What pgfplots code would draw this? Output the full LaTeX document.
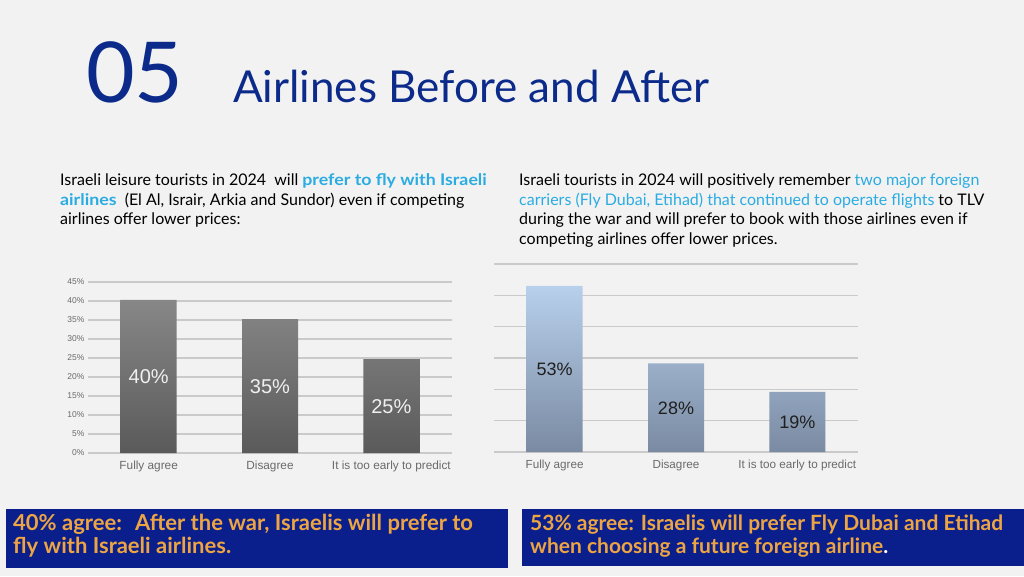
\documentclass[border=0pt]{standalone}
\usepackage{pgfplots}
\pgfplotsset{compat=1.18}
\usepackage{fontspec}
\setmainfont{Lato}
\newfontfamily\arial{Liberation Sans}
\definecolor{bg}{HTML}{F2F2F2}
\definecolor{navy}{HTML}{0B2A8A}
\definecolor{cyanx}{HTML}{2AACE2}
\definecolor{boxblue}{HTML}{0A1E8C}
\definecolor{orangex}{HTML}{EDA543}
\definecolor{gridc}{HTML}{CACACA}
\definecolor{gtop}{HTML}{878787}
\definecolor{gbot}{HTML}{5A5A5A}
\definecolor{btop}{HTML}{B8D0EC}
\definecolor{bbot}{HTML}{7A8AA2}
\definecolor{ticktext}{HTML}{6A6A6A}
\newcommand{\wb}[1]{\scalebox{1.11}[1]{\textcolor{cyanx}{\bfseries #1}}}
\begin{document}
\begin{tikzpicture}
\fill[bg] (0pt,0pt) rectangle (1024pt,576pt);
% title
\node[anchor=base west, inner sep=0, text=navy, font=\fontsize{84}{84}\selectfont] at (86pt,473pt) {05};
\node[anchor=base west, inner sep=0, text=navy, font=\fontsize{44}{44}\selectfont] at (233pt,473pt) {Airlines Before and After};
% left text
\begin{scope}[every node/.style={anchor=base west, inner sep=0, font=\fontsize{16}{18}\selectfont, text=black}]
\node at (60pt,390pt) {Israeli leisure tourists in 2024~ will \wb{prefer to fly with Israeli}};
\node at (60pt,370.5pt) {\wb{airlines}~ (El Al, Israir, Arkia and Sundor) even if competing};
\node at (60pt,351pt) {airlines offer lower prices:};
\node at (519pt,390pt) {Israeli tourists in 2024 will positively remember \textcolor{cyanx}{two major foreign}};
\node at (519pt,370.5pt) {\textcolor{cyanx}{carriers (Fly Dubai, Etihad) that continued to operate flights} to TLV};
\node at (519pt,351pt) {during the war and will prefer to book with those airlines even if};
\node at (519pt,331.5pt) {competing airlines offer lower prices.};
\end{scope}
% left chart
\begin{axis}[
  at={(88pt,123pt)}, anchor=south west, scale only axis, width=364pt, height=171pt,
  xmin=-0.5, xmax=2.5, ymin=0, ymax=45,
  ytick={0,5,...,45}, yticklabel={\pgfmathprintnumber{\tick}\%},
  xtick={0,1,2}, xticklabels={Fully agree, Disagree, It is too early to predict},
  axis line style={draw=none}, major tick length=0pt,
  ymajorgrids, grid style={gridc, line width=1.3pt},
  ybar, bar width=56pt,
  yticklabel style={font=\arial\fontsize{8.5}{9}\selectfont, text=ticktext},
  xticklabel style={font=\arial\fontsize{11.8}{12}\selectfont, text=ticktext, yshift=-4pt},
  /pgf/number format/assume math mode=true,
  clip=false,
]
\addplot[draw=none, top color=gtop, bottom color=gbot] coordinates {(0,40.3) (1,35.2) (2,24.7)};
\node[text=white!94!black, font=\arial\fontsize{20}{20}\selectfont] at (axis cs:0,20) {40\%};
\node[text=white!94!black, font=\arial\fontsize{20}{20}\selectfont] at (axis cs:1,17.4) {35\%};
\node[text=white!94!black, font=\arial\fontsize{20}{20}\selectfont] at (axis cs:2,12.2) {25\%};
\end{axis}
% right chart
\begin{axis}[
  at={(494pt,124pt)}, anchor=south west, scale only axis, width=364pt, height=188pt,
  xmin=-0.5, xmax=2.5, ymin=0, ymax=60,
  ytick={0,10,...,60}, yticklabels={},
  xtick={0,1,2}, xticklabels={Fully agree, Disagree, It is too early to predict},
  axis line style={draw=none}, major tick length=0pt,
  ymajorgrids, grid style={gridc, line width=1.3pt},
  ybar, bar width=56pt,
  xticklabel style={font=\arial\fontsize{11.7}{12}\selectfont, text=ticktext, yshift=-4pt},
  clip=false,
]
\addplot[draw=none, top color=btop, bottom color=bbot] coordinates {(0,53) (1,28.3) (2,19.2)};
\node[text=black!88, font=\arial\fontsize{18}{18}\selectfont] at (axis cs:0,26.3) {53\%};
\node[text=black!88, font=\arial\fontsize{18}{18}\selectfont] at (axis cs:1,13.9) {28\%};
\node[text=black!88, font=\arial\fontsize{18}{18}\selectfont] at (axis cs:2,9.4) {19\%};
\end{axis}
% bottom boxes
\fill[boxblue] (6pt,8pt) rectangle (508pt,67pt);
\fill[boxblue] (522pt,10pt) rectangle (1024pt,67pt);
\begin{scope}[every node/.style={anchor=base west, inner sep=0, text=orangex}]
\node[font=\bfseries\fontsize{22}{22}\selectfont] at (13pt,46pt) {40\% agree:\hspace{0.6em}After the war, Israelis will prefer to};
\node[font=\bfseries\fontsize{22}{22}\selectfont] at (13pt,22.5pt) {fly with Israeli airlines.};
\node[font=\bfseries\fontsize{21}{21}\selectfont] at (530pt,46pt) {53\% agree: Israelis will prefer Fly Dubai and Etihad};
\node[font=\bfseries\fontsize{21}{21}\selectfont] at (530pt,22.5pt) {when choosing a future foreign airline\textcolor{white}{.}};
\end{scope}
\end{tikzpicture}
\end{document}
